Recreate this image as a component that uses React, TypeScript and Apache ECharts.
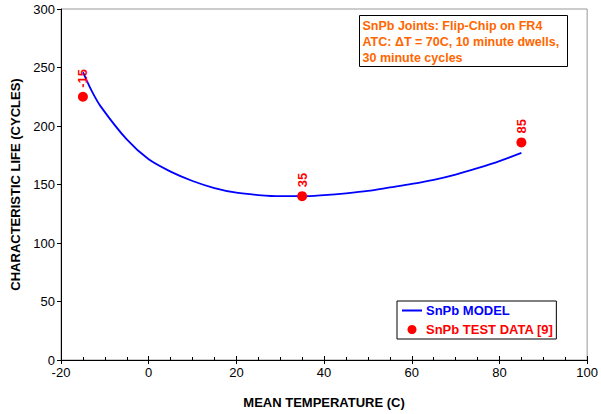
import React, { useEffect, useRef } from "react";
import * as echarts from "echarts";

const modelTemps = [-15, -13, -11, -5, 0, 5, 10, 15, 20, 25, 30, 35, 40, 45, 50, 55, 60, 65, 70, 75, 80, 85];
const modelLife = [246, 230, 217, 188.5, 171.5, 161, 153, 147, 143, 141, 140, 140, 141, 142.5, 144.5, 147.5, 150.5, 154, 158.5, 164, 170, 177];

const testTemps = [-15, 35, 85];
const testLife = [225, 140, 186];
const testLabels = ["-15", "35", "85"];

const noteLines = ["SnPb Joints: Flip-Chip on FR4", "ATC: \u0394T = 70C, 10 minute dwells,", "30 minute cycles"];

const FONT = "'Liberation Sans', Arial, sans-serif";

export default function App() {
  const ref = useRef<HTMLDivElement>(null);
  useEffect(() => {
    if (!ref.current) return;
    const chart = echarts.init(ref.current, undefined, { renderer: "svg" });
    const option: any = {
      animation: false,
      backgroundColor: "#ffffff",
      textStyle: { fontFamily: FONT },
      grid: {
        left: 61,
        right: 8,
        top: 9,
        bottom: 52,
        show: true,
        borderColor: "#999999",
        borderWidth: 1,
      },
      xAxis: [
        {
          type: "value",
          min: -20,
          max: 100,
          interval: 20,
          name: "MEAN TEMPERATURE (C)",
          nameLocation: "middle",
          nameGap: 36,
          nameTextStyle: { fontFamily: FONT, fontWeight: "bold", fontSize: 13, color: "#000" },
          axisLine: { show: true, onZero: false, lineStyle: { color: "#000", width: 1 } },
          axisTick: { show: true, inside: false, length: 4, lineStyle: { color: "#000" } },
          axisLabel: { fontFamily: FONT, fontSize: 13, color: "#000", margin: 6 },
          splitLine: { show: false },
        },
        {
          type: "value",
          min: -20,
          max: 100,
          interval: 20,
          position: "bottom",
          axisLine: { show: false, onZero: false },
          axisTick: { show: true, inside: true, length: 4, lineStyle: { color: "#000" } },
          minorTick: { show: true, splitNumber: 4, length: 3, lineStyle: { color: "#000" } },
          axisLabel: { show: false },
          splitLine: { show: false },
        },
      ],
      yAxis: {
        type: "value",
        min: 0,
        max: 300,
        interval: 50,
        name: "CHARACTERISTIC LIFE (CYCLES)",
        nameLocation: "middle",
        nameGap: 37,
        nameTextStyle: { fontFamily: FONT, fontWeight: "bold", fontSize: 13, color: "#000" },
        axisLine: { show: true, onZero: false, lineStyle: { color: "#000", width: 1 } },
        axisTick: { show: true, inside: false, length: 4, lineStyle: { color: "#000" } },
        axisLabel: { fontFamily: FONT, fontSize: 13, color: "#000", margin: 6 },
        splitLine: { show: false },
      },
      legend: {
        left: 397,
        top: 301,
        orient: "vertical",
        backgroundColor: "#ffffff",
        borderColor: "#000",
        borderWidth: 1,
        padding: [3, 3, 3, 4],
        itemGap: 6,
        itemWidth: 20,
        itemHeight: 9,
        textStyle: { fontFamily: FONT, fontWeight: "bold", fontSize: 13, padding: [0, 0, 0, -1] },
        data: [
          { name: "SnPb MODEL", textStyle: { color: "#0000FF" }, itemStyle: { opacity: 0 } },
          { name: "SnPb TEST DATA [9]", textStyle: { color: "#FF0000" } },
        ],
      },
      series: [
        {
          name: "SnPb MODEL",
          type: "line",
          xAxisIndex: 0,
          data: modelTemps.map((t, i) => [t, modelLife[i]]),
          symbol: "none",
          smooth: 0.3,
          lineStyle: { color: "#0000FF", width: 1.8 },
          itemStyle: { color: "#0000FF" },
          z: 2,
        },
        {
          name: "SnPb TEST DATA [9]",
          type: "scatter",
          xAxisIndex: 0,
          data: testTemps.map((t, i) => [t, testLife[i]]),
          symbol: "circle",
          symbolSize: 10,
          itemStyle: { color: "#FF0000", opacity: 1 },
          label: {
            show: true,
            position: "top",
            distance: 4,
            rotate: 90,
            align: "left",
            verticalAlign: "middle",
            formatter: (p: any) => testLabels[p.dataIndex],
            fontFamily: FONT,
            fontWeight: "bold",
            fontSize: 13,
            color: "#FF0000",
          },
          z: 3,
        },
      ],
      graphic: [
        {
          type: "group",
          left: 359,
          top: 15,
          children: [
            {
              type: "rect",
              shape: { x: 0, y: 0, width: 208, height: 51 },
              style: { fill: "#ffffff", stroke: "#000", lineWidth: 1 },
            },
            ...noteLines.map((line, i) => ({
              type: "text",
              x: 3,
              y: 10 + i * 16,
              style: {
                text: line,
                fill: "#FF6600",
                font: `bold 12.5px ${FONT}`,
                verticalAlign: "middle",
              },
            })),
          ],
        },
      ],
    };
    chart.setOption(option);
    return () => chart.dispose();
  }, []);
  return <div ref={ref} style={{ width: 601, height: 414, position: "absolute", left: 0, top: 0 }} />;
}
